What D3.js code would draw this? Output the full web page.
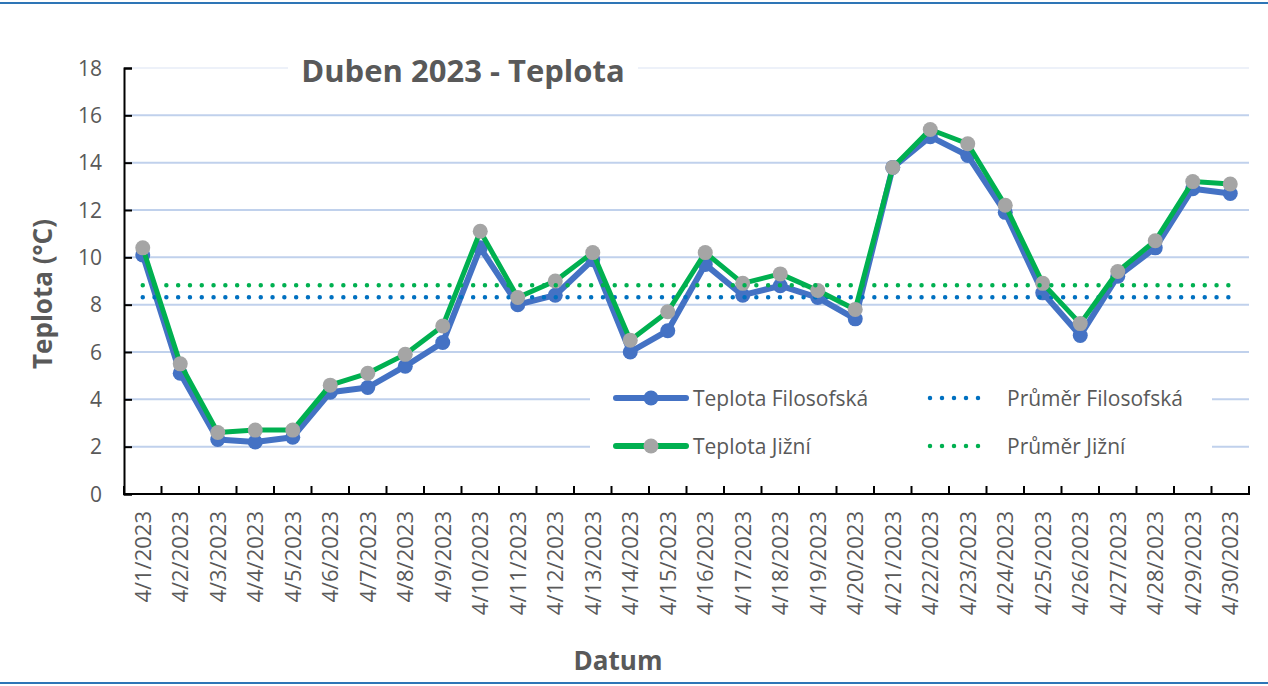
<!DOCTYPE html>
<html>
<head>
<meta charset="utf-8">
<script src="https://cdn.jsdelivr.net/npm/d3@7"></script>
<style>
  html, body { margin: 0; padding: 0; background: #fff; }
  svg { display: block; font-family: 'Open Sans', sans-serif; }
</style>
</head>
<body>
<svg id="chart" width="1268" height="686"></svg>
<script>
// DATA
const dates = [
  '4/1/2023', '4/2/2023', '4/3/2023', '4/4/2023', '4/5/2023', '4/6/2023',
  '4/7/2023', '4/8/2023', '4/9/2023', '4/10/2023', '4/11/2023', '4/12/2023',
  '4/13/2023', '4/14/2023', '4/15/2023', '4/16/2023', '4/17/2023', '4/18/2023',
  '4/19/2023', '4/20/2023', '4/21/2023', '4/22/2023', '4/23/2023', '4/24/2023',
  '4/25/2023', '4/26/2023', '4/27/2023', '4/28/2023', '4/29/2023', '4/30/2023',
];
const teplotaFilosofska = [
  10.1, 5.1, 2.3, 2.2, 2.4, 4.3, 4.5, 5.4, 6.4, 10.4,
  8.0, 8.4, 9.9, 6.0, 6.9, 9.7, 8.4, 8.8, 8.3, 7.4,
  13.8, 15.1, 14.3, 11.9, 8.5, 6.7, 9.2, 10.4, 12.9, 12.7,
];
const teplotaJizni = [
  10.4, 5.5, 2.6, 2.7, 2.7, 4.6, 5.1, 5.9, 7.1, 11.1,
  8.3, 9.0, 10.2, 6.5, 7.7, 10.2, 8.9, 9.3, 8.6, 7.8,
  13.8, 15.4, 14.8, 12.2, 8.9, 7.2, 9.4, 10.7, 13.2, 13.1,
];
const prumerFilosofska = 8.31;
const prumerJizni = 8.82;
const yTicks = [0, 2, 4, 6, 8, 10, 12, 14, 16, 18];

// LAYOUT
const svg = d3.select('#chart');
const width = 1268;
const height = 686;
const plot = { left: 124, right: 1249, top: 68, bottom: 494 };
const textColor = '#595959';
const gridColor = '#C0D1EC';

const x = d3.scaleBand().domain(dates).range([plot.left, plot.right]).padding(0);
const y = d3.scaleLinear().domain([0, 18]).range([plot.bottom, plot.top]);
const cx = (d) => x(d) + x.bandwidth() / 2;

// blue frame lines top / bottom
svg.append('line')
  .attr('x1', 0).attr('x2', width).attr('y1', 3).attr('y2', 3)
  .attr('stroke', '#2E75B6').attr('stroke-width', 2);
svg.append('line')
  .attr('x1', 0).attr('x2', width).attr('y1', height - 3).attr('y2', height - 3)
  .attr('stroke', '#2E75B6').attr('stroke-width', 2);

// gridlines (top one is very pale in the original)
svg.append('g')
  .selectAll('line')
  .data(yTicks.filter((t) => t > 0))
  .join('line')
  .attr('x1', plot.left).attr('x2', plot.right)
  .attr('y1', (d) => y(d)).attr('y2', (d) => y(d))
  .attr('stroke', (d) => (d === 18 ? '#EDF1F9' : gridColor))
  .attr('stroke-width', 2);

// y axis
const yAxis = svg.append('g')
  .attr('transform', `translate(${plot.left},0)`)
  .call(d3.axisRight(y).tickValues(yTicks).tickSize(8).tickFormat(''));
yAxis.select('.domain').attr('stroke', '#000').attr('stroke-width', 2);
yAxis.selectAll('.tick line').attr('stroke', '#000').attr('stroke-width', 2);

svg.append('g')
  .selectAll('text')
  .data(yTicks)
  .join('text')
  .attr('x', 102)
  .attr('y', (d) => y(d))
  .attr('dy', '0.36em')
  .attr('text-anchor', 'end')
  .attr('fill', textColor)
  .style('font-size', '21px')
  .text((d) => d);

// x axis: ticks on category boundaries, pointing inward
const xAxis = svg.append('g');
xAxis.append('line')
  .attr('x1', plot.left - 1).attr('x2', plot.right)
  .attr('y1', plot.bottom).attr('y2', plot.bottom)
  .attr('stroke', '#000').attr('stroke-width', 2);
xAxis.selectAll('line.tick')
  .data(dates.concat(['end']))
  .join('line')
  .attr('class', 'tick')
  .attr('x1', (d, i) => (i < dates.length ? x(d) : plot.right))
  .attr('x2', (d, i) => (i < dates.length ? x(d) : plot.right))
  .attr('y1', plot.bottom - 8).attr('y2', plot.bottom + 1)
  .attr('stroke', '#000').attr('stroke-width', 2);

svg.append('g')
  .selectAll('text')
  .data(dates)
  .join('text')
  .attr('transform', (d) => `translate(${cx(d)},511) rotate(-90)`)
  .attr('dy', '0.36em')
  .attr('text-anchor', 'end')
  .attr('fill', textColor)
  .style('font-size', '22px')
  .text((d) => d);

// axis titles
svg.append('text')
  .attr('transform', 'translate(43,294) rotate(-90)')
  .attr('dy', '0.36em')
  .attr('text-anchor', 'middle')
  .attr('fill', textColor)
  .style('font-size', '26px')
  .style('font-weight', 'bold')
  .text('Teplota (°C)');

svg.append('text')
  .attr('x', 618).attr('y', 661)
  .attr('dy', '0.36em')
  .attr('text-anchor', 'middle')
  .attr('fill', textColor)
  .style('font-size', '26px')
  .style('font-weight', 'bold')
  .text('Datum');

// SERIES
const line = d3.line().x((d, i) => cx(dates[i])).y((d) => y(d));

function drawTemp(values, lineColor, lineWidth, markerColor) {
  const g = svg.append('g');
  g.append('path')
    .datum(values)
    .attr('d', line)
    .attr('fill', 'none')
    .attr('stroke', lineColor)
    .attr('stroke-width', lineWidth)
    .attr('stroke-linejoin', 'round');
  g.selectAll('circle')
    .data(values)
    .join('circle')
    .attr('cx', (d, i) => cx(dates[i]))
    .attr('cy', (d) => y(d))
    .attr('r', 7.5)
    .attr('fill', markerColor);
}

function drawAverage(value, color) {
  svg.append('path')
    .datum(dates.map(() => value))
    .attr('d', line)
    .attr('fill', 'none')
    .attr('stroke', color)
    .attr('stroke-width', 4.5)
    .attr('stroke-linecap', 'round')
    .attr('stroke-dasharray', '0 11.8');
}

drawTemp(teplotaFilosofska, '#4472C4', 6, '#4472C4');
drawAverage(prumerFilosofska, '#0070C0');
drawTemp(teplotaJizni, '#00B050', 5, '#A5A5A5');
drawAverage(prumerJizni, '#00B050');

// TITLE (white box hides gridline)
svg.append('rect')
  .attr('x', 288).attr('y', 48).attr('width', 350).attr('height', 46)
  .attr('fill', '#fff');
svg.append('text')
  .attr('x', 463).attr('y', 71)
  .attr('dy', '0.36em')
  .attr('text-anchor', 'middle')
  .attr('fill', textColor)
  .style('font-size', '31px')
  .style('font-weight', 'bold')
  .text('Duben 2023 - Teplota');

// LEGEND
const legendItems = [
  { label: 'Teplota Filosofská', kind: 'line', color: '#4472C4', marker: '#4472C4', col: 0, row: 0 },
  { label: 'Průměr Filosofská', kind: 'dots', color: '#0070C0', col: 1, row: 0 },
  { label: 'Teplota Jižní', kind: 'line', color: '#00B050', marker: '#A5A5A5', col: 0, row: 1 },
  { label: 'Průměr Jižní', kind: 'dots', color: '#00B050', col: 1, row: 1 },
];
const legend = svg.append('g');
legend.append('rect')
  .attr('x', 590).attr('y', 372).attr('width', 622).attr('height', 98)
  .attr('fill', '#fff');
const colX = [616, 930];
const rowY = [398, 446];
legendItems.forEach((it) => {
  const x0 = colX[it.col];
  const y0 = rowY[it.row];
  if (it.kind === 'line') {
    legend.append('line')
      .attr('x1', x0).attr('x2', x0 + 70).attr('y1', y0).attr('y2', y0)
      .attr('stroke', it.color).attr('stroke-width', 6).attr('stroke-linecap', 'round');
    legend.append('circle')
      .attr('cx', x0 + 35).attr('cy', y0).attr('r', 7.5).attr('fill', it.marker);
  } else {
    legend.append('line')
      .attr('x1', x0).attr('x2', x0 + 60).attr('y1', y0).attr('y2', y0)
      .attr('stroke', it.color).attr('stroke-width', 4.5)
      .attr('stroke-linecap', 'round').attr('stroke-dasharray', '0 12');
  }
  legend.append('text')
    .attr('x', x0 + 77).attr('y', y0).attr('dy', '0.36em')
    .attr('fill', textColor).style('font-size', '21px')
    .text(it.label);
});
</script>
</body>
</html>
